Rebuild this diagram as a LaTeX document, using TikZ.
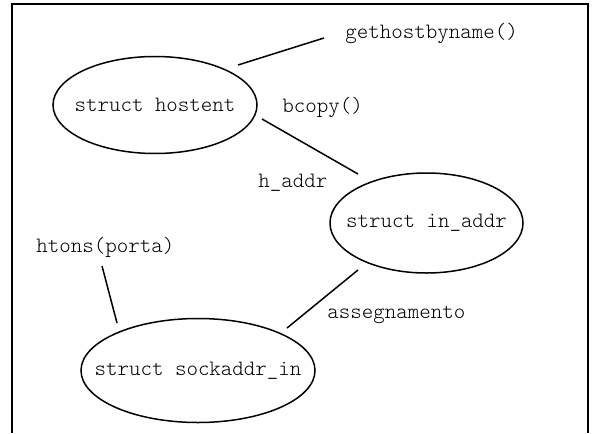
\documentclass[tikz,border=0pt]{standalone}
\usetikzlibrary{shapes.geometric}

\tikzset{
	structnode/.style={ellipse, draw, line width=0.75pt, inner sep=0pt},
	fnlabel/.style={anchor=west, inner sep=0pt, font=\ttfamily\fontseries{l}\fontsize{10.95}{13}\selectfont},
	link/.style={line width=0.75pt}
}

\begin{document}
\begin{tikzpicture}[x=0.5pt, y=-0.5pt, every label/.style={font=\ttfamily\fontseries{l}\fontsize{10.95}{13}\selectfont}]
			\useasboundingbox (0,0) rectangle (593,433);
			% cornice
			\draw[line width=1.15pt] (12,433) -- (12,4) -- (588,4) -- (588,433);
			% strutture
			\node[structnode, minimum width=102pt, minimum height=48.5pt, label=center:{struct hostent}]
				(hostent) at (155,105) {};
			\node[structnode, minimum width=96.5pt, minimum height=50pt, label=center:{struct in\_addr}]
				(inaddr) at (426.5,223) {};
			\node[structnode, minimum width=117pt, minimum height=52pt, label=center:{struct sockaddr\_in}]
				(sockaddr) at (198,370.5) {};
			% funzioni
			\node[fnlabel] (gethost) at (345,33) {gethostbyname()};
			\node[fnlabel] (bcopy) at (282,107) {bcopy()};
			\node[fnlabel] (haddr) at (258,183) {h\_addr};
			\node[fnlabel] (htons) at (36,247) {htons(porta)};
			\node[fnlabel] (assegn) at (327,315) {assegnamento};
			% collegamenti
			\coordinate (gh1) at (238,65);
			\coordinate (gh2) at (324,38);
			\coordinate (bc1) at (262,119);
			\coordinate (bc2) at (358,174);
			\coordinate (ht1) at (102,266);
			\coordinate (ht2) at (117,323);
			\coordinate (as1) at (358,270);
			\coordinate (as2) at (287,328);
			\draw[link] (gh1) -- (gh2);
			\draw[link] (bc1) -- (bc2);
			\draw[link] (ht1) -- (ht2);
			\draw[link] (as1) -- (as2);
		\end{tikzpicture}
\end{document}
